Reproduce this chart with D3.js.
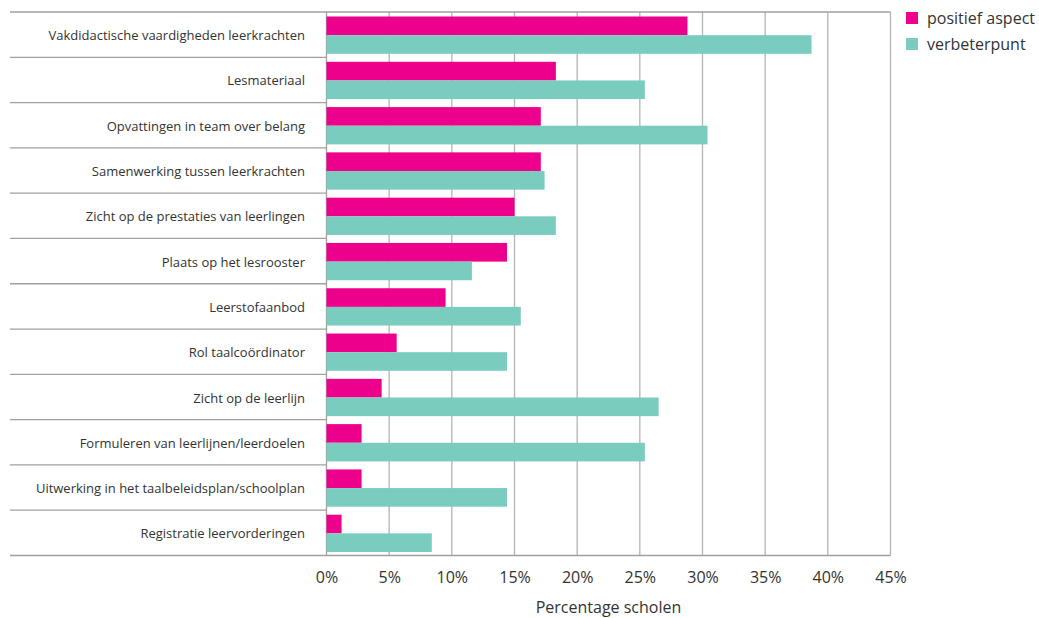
<!DOCTYPE html>
<html><head><meta charset="utf-8">
<script src="https://cdn.jsdelivr.net/npm/d3@7"></script>
<style>body{margin:0;background:#fff}svg{display:block}text{font-family:"Open Sans",sans-serif;fill:#333}</style>
</head><body><svg id="c" width="1039" height="618"></svg>
<script>
const categories = ["Vakdidactische vaardigheden leerkrachten","Lesmateriaal","Opvattingen in team over belang","Samenwerking tussen leerkrachten","Zicht op de prestaties van leerlingen","Plaats op het lesrooster","Leerstofaanbod","Rol taalcoördinator","Zicht op de leerlijn","Formuleren van leerlijnen/leerdoelen","Uitwerking in het taalbeleidsplan/schoolplan","Registratie leervorderingen"];
const positief = [28.8,18.3,17.1,17.1,15.0,14.4,9.5,5.6,4.4,2.8,2.8,1.2];
const verbeter = [38.7,25.4,30.4,17.4,18.3,11.6,15.5,14.4,26.5,25.4,14.4,8.4];
const ticks = [0,5,10,15,20,25,30,35,40,45];
const seriesNames = ["positief aspect","verbeterpunt"];
const colors = ["#EC008C","#7ACCBF"];

const svg = d3.select("#c");
const L = 326.5, R = 890.5, T = 12, B = 555.5;
const x = d3.scaleLinear().domain([0,45]).range([L,R]);
const y = d3.scaleBand().domain(categories).range([T,B]);
const bh = (y.bandwidth()-8)/2;

// grid
svg.append("g").selectAll("line").data(ticks.slice(1)).join("line")
  .attr("x1",d=>x(d)).attr("x2",d=>x(d)).attr("y1",T).attr("y2",B)
  .attr("stroke","#b4b4b4").attr("stroke-width",1.3);
// row separators
const seps = categories.map(c=>y(c)).concat([B]);
svg.append("g").selectAll("line").data(seps).join("line")
  .attr("x1",10).attr("x2",(d,i)=> (i===0||i===seps.length-1)? R : L)
  .attr("y1",d=>d).attr("y2",d=>d).attr("stroke","#a0a0a0").attr("stroke-width",1.3);
svg.append("line").attr("x1",L).attr("x2",L).attr("y1",T).attr("y2",B).attr("stroke","#a0a0a0").attr("stroke-width",1.3);

// bars
const g = svg.append("g");
g.selectAll("rect.p").data(positief).join("rect").attr("class","p")
  .attr("x",x(0)).attr("y",(d,i)=>y(categories[i])+4.5).attr("height",bh)
  .attr("width",d=>x(d)-x(0)).attr("fill",colors[0]);
g.selectAll("rect.v").data(verbeter).join("rect").attr("class","v")
  .attr("x",x(0)).attr("y",(d,i)=>y(categories[i])+4.5+bh).attr("height",bh)
  .attr("width",d=>x(d)-x(0)).attr("fill",colors[1]);

// category labels
svg.append("g").selectAll("text").data(categories).join("text")
  .attr("x",305).attr("y",d=>y(d)+y.bandwidth()/2+1).attr("dy","0.35em")
  .attr("text-anchor","end").attr("font-size",13).text(d=>d);

// x axis
const ax = svg.append("g").attr("transform",`translate(0,${B})`)
  .call(d3.axisBottom(x).tickValues(ticks).tickFormat(d=>d+"%").tickSize(0).tickPadding(16));
ax.select(".domain").remove();
ax.selectAll("text").attr("font-size",16).attr("fill","#333").style("font-family","'Open Sans',sans-serif");

svg.append("text").attr("x",(L+R)/2).attr("y",613).attr("text-anchor","middle").attr("font-size",16).text("Percentage scholen");

// legend
const lg = svg.append("g").selectAll("g").data(seriesNames).join("g")
  .attr("transform",(d,i)=>`translate(906,${12+i*26})`);
lg.append("rect").attr("width",12).attr("height",12).attr("fill",(d,i)=>colors[i]);
lg.append("text").attr("x",21).attr("y",6).attr("dy","0.35em").attr("font-size",16).text(d=>d);
</script></body></html>
